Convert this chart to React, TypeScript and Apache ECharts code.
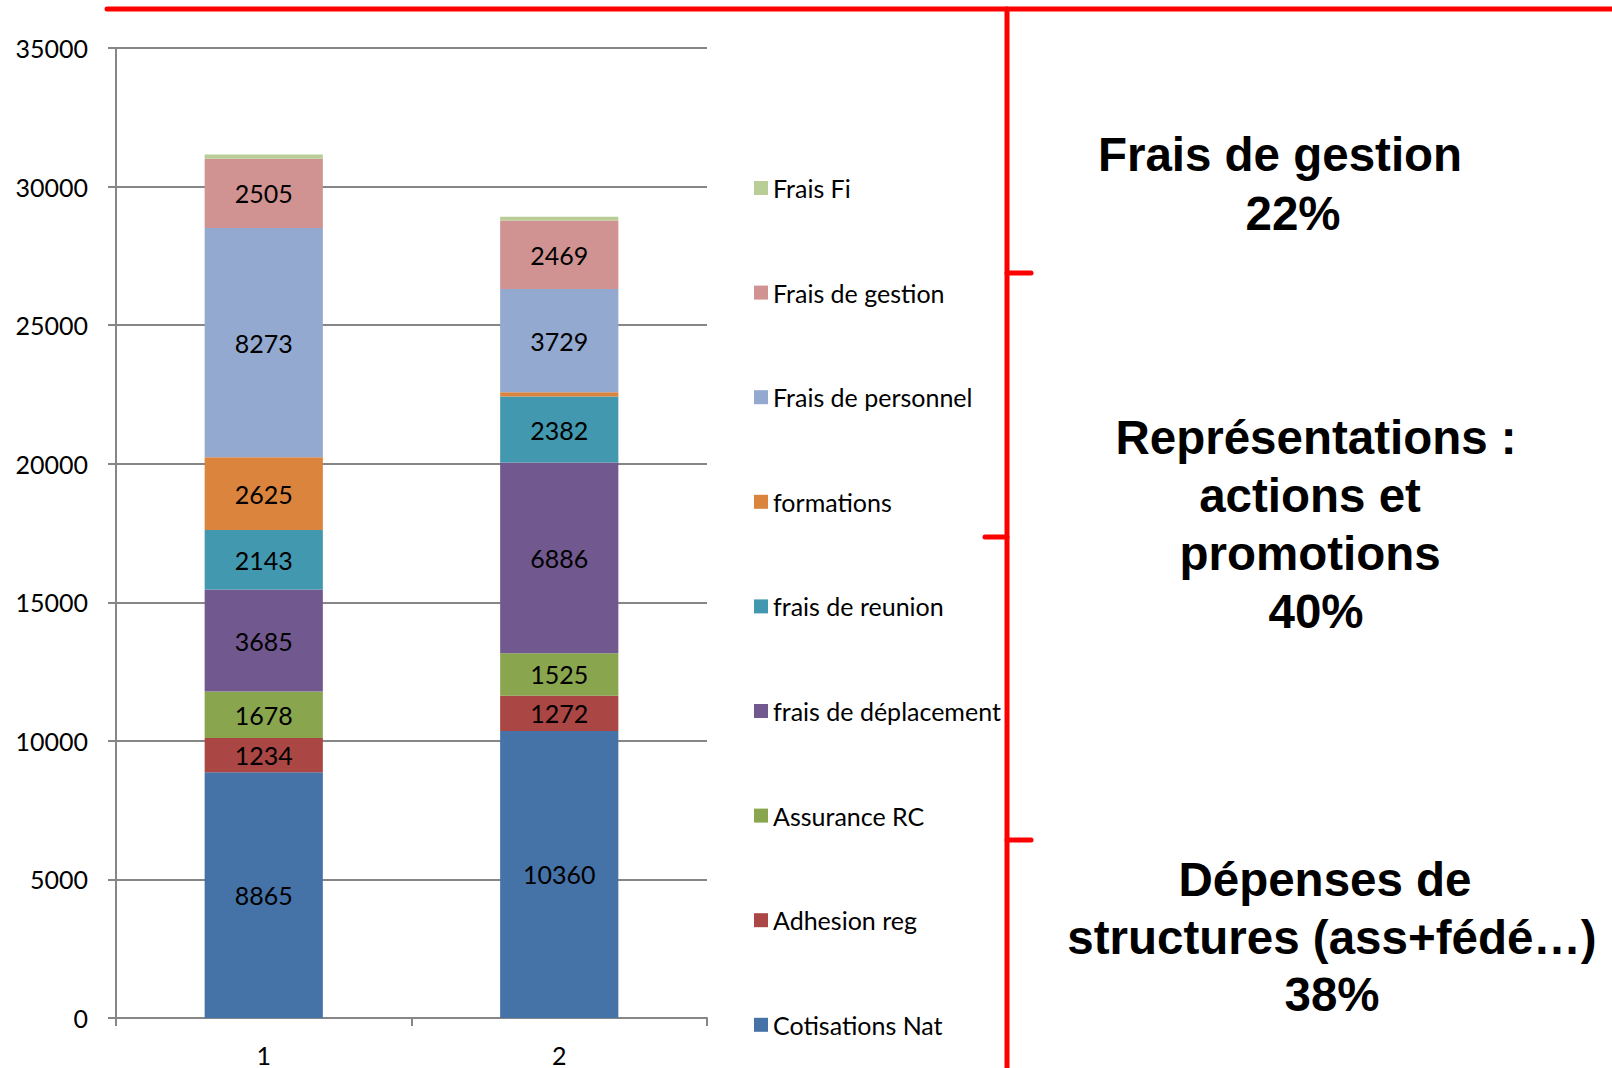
import React, { useEffect, useRef } from "react";
import * as echarts from "echarts";

const categories = ["1", "2"];
const cotisationsNat = [8865, 10360];
const adhesionReg = [1234, 1272];
const assuranceRC = [1678, 1525];
const fraisDeplacement = [3685, 6886];
const fraisReunion = [2143, 2382];
const formations = [2625, 150];
const fraisPersonnel = [8273, 3729];
const fraisGestion = [2505, 2469];
const fraisFi = [150, 140];

const seriesDefs = [
  { name: "Cotisations Nat", data: cotisationsNat, color: "#4572A7" },
  { name: "Adhesion reg", data: adhesionReg, color: "#AA4643" },
  { name: "Assurance RC", data: assuranceRC, color: "#89A54E" },
  { name: "frais de déplacement", data: fraisDeplacement, color: "#71588F" },
  { name: "frais de reunion", data: fraisReunion, color: "#4198AF" },
  { name: "formations", data: formations, color: "#DB843D" },
  { name: "Frais de personnel", data: fraisPersonnel, color: "#93A9CF" },
  { name: "Frais de gestion", data: fraisGestion, color: "#D19392" },
  { name: "Frais Fi", data: fraisFi, color: "#B9CD96" },
];

const annotations = [
  { text: "Frais de gestion", x: 1280, y: 154 },
  { text: "22%", x: 1293, y: 213 },
  { text: "Représentations :", x: 1316, y: 437 },
  { text: "actions et", x: 1310, y: 495 },
  { text: "promotions", x: 1310, y: 553 },
  { text: "40%", x: 1316, y: 611 },
  { text: "Dépenses de", x: 1325, y: 879 },
  { text: "structures (ass+fédé…)", x: 1332, y: 937 },
  { text: "38%", x: 1332, y: 994 },
];

const FONT = "Lato";

export default function App() {
  const ref = useRef<HTMLDivElement>(null);
  useEffect(() => {
    if (!ref.current) return;
    const chart = echarts.init(ref.current, null, { renderer: "svg" });
    const legendOrder = [...seriesDefs].reverse();
    const legends = legendOrder.map((s, i) => ({
      data: [s.name],
      left: 754,
      top: 188 + i * 104.6 - 14,
      orient: "vertical",
      padding: 0,
      icon: "rect",
      itemWidth: 14,
      itemHeight: 14,
      selectedMode: false,
      textStyle: { fontFamily: FONT, fontSize: 25, color: "#000", lineHeight: 28, padding: [0, 0, 0, 0] },
    }));
    const red = { stroke: "#ff0000", lineWidth: 5, lineCap: "round" };
    const graphics: any[] = [
      { type: "line", shape: { x1: 107, y1: 9, x2: 1612, y2: 9 }, style: red },
      { type: "line", shape: { x1: 1007, y1: 9, x2: 1007, y2: 1068 }, style: red },
      { type: "line", shape: { x1: 1007, y1: 273, x2: 1031, y2: 273 }, style: red },
      { type: "line", shape: { x1: 985, y1: 537, x2: 1007, y2: 537 }, style: red },
      { type: "line", shape: { x1: 1007, y1: 840, x2: 1031, y2: 840 }, style: red },
      ...annotations.map((a) => ({
        type: "text",
        x: a.x,
        y: a.y,
        style: {
          text: a.text,
          fontFamily: "Liberation Sans",
          fontWeight: "bold",
          fontSize: 47.5,
          fill: "#000",
          textAlign: "center",
          textVerticalAlign: "middle",
        },
      })),
    ];
    chart.setOption({
      animation: false,
      backgroundColor: "#fff",
      grid: { left: 116, top: 48, right: 905, bottom: 50, containLabel: false },
      legend: legends,
      xAxis: {
        type: "category",
        data: categories,
        boundaryGap: true,
        axisLine: { lineStyle: { color: "#868686", width: 2 } },
        axisTick: { show: true, length: 8, lineStyle: { color: "#868686", width: 2 } },
        axisLabel: { fontFamily: FONT, fontSize: 25, color: "#000", margin: 24 },
      },
      yAxis: {
        type: "value",
        min: 0,
        max: 35000,
        interval: 5000,
        axisLine: { show: true, lineStyle: { color: "#868686", width: 2 } },
        axisTick: { show: true, length: 8, lineStyle: { color: "#868686", width: 2 } },
        axisLabel: {
          fontFamily: FONT,
          fontSize: 25,
          color: "#000",
          margin: 28,
          formatter: (v: number) => String(v),
        },
        splitLine: { lineStyle: { color: "#868686", width: 2 } },
      },
      series: seriesDefs.map((s) => ({
        name: s.name,
        type: "bar",
        stack: "total",
        barWidth: "40%",
        data: s.data,
        itemStyle: { color: s.color },
        label: {
          show: s.name !== "Frais Fi",
          position: "inside",
          fontFamily: FONT,
          fontSize: 25,
          color: "#000",
          formatter: (p: any) => (p.value > 500 ? String(p.value) : ""),
        },
      })),
      graphic: graphics,
    });
    return () => chart.dispose();
  }, []);
  return (
    <div
      ref={ref}
      style={{ position: "fixed", left: 0, top: 0, width: 1612, height: 1068 }}
    />
  );
}
